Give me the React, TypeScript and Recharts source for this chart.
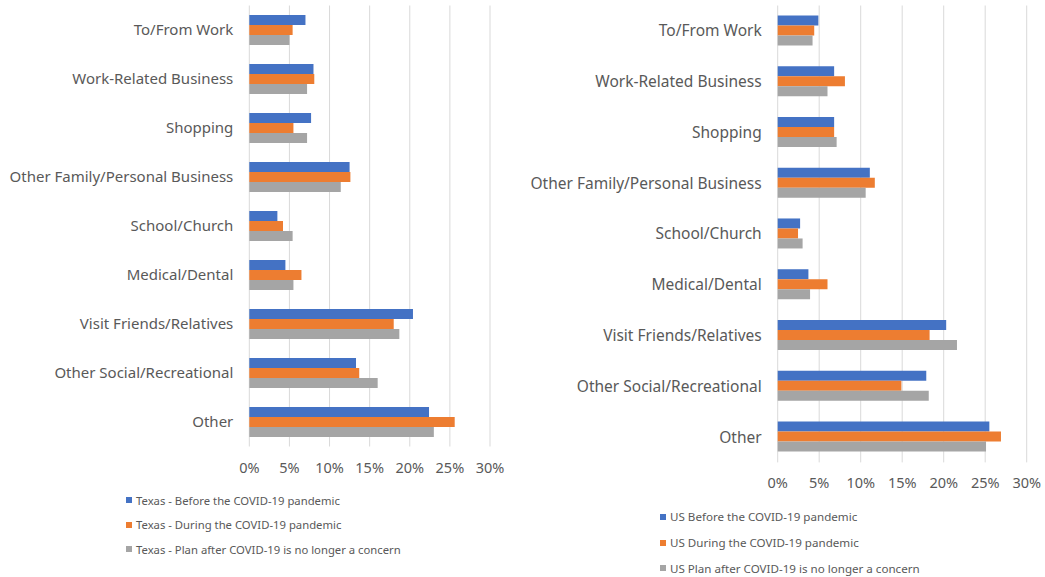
import React from 'react'
import { BarChart, CartesianGrid, XAxis, YAxis, Bar } from 'recharts';

// trip purposes, top to bottom
const purposes = [
    'To/From Work',
    'Work-Related Business',
    'Shopping',
    'Other Family/Personal Business',
    'School/Church',
    'Medical/Dental',
    'Visit Friends/Relatives',
    'Other Social/Recreational',
    'Other',
];

// percent of trips
const texasBefore = [7.0, 8.0, 7.7, 12.5, 3.5, 4.5, 20.4, 13.3, 22.4];
const texasDuring = [5.4, 8.1, 5.5, 12.6, 4.2, 6.5, 18.0, 13.7, 25.6];
const texasAfter = [5.0, 7.2, 7.2, 11.4, 5.4, 5.5, 18.7, 16.0, 23.0];

const usBefore = [4.9, 6.8, 6.8, 11.1, 2.7, 3.7, 20.3, 17.9, 25.5];
const usDuring = [4.4, 8.1, 6.8, 11.7, 2.45, 6.0, 18.3, 14.9, 26.9];
const usAfter = [4.2, 6.0, 7.1, 10.6, 3.0, 3.9, 21.6, 18.2, 25.1];

const pctTicks = [0, 5, 10, 15, 20, 25, 30];

const texasNames = [
    'Texas - Before the COVID-19 pandemic',
    'Texas - During the COVID-19 pandemic',
    'Texas - Plan after COVID-19 is no longer a concern',
];
const usNames = [
    'US Before the COVID-19 pandemic',
    'US During the COVID-19 pandemic',
    'US Plan after COVID-19 is no longer a concern',
];

const colors = ['#4472C4', '#ED7D31', '#A5A5A5'];
const textColor = '#595959';
const font = '"Noto Sans", sans-serif';

interface IRow {
    name: string,
    before: number,
    during: number,
    after: number
}

const buildRows = (b: number[], d: number[], a: number[]) =>
    purposes.map((name, i) => ({ name, before: b[i], during: d[i], after: a[i] })) as IRow[];

const texasData = buildRows(texasBefore, texasDuring, texasAfter);
const usData = buildRows(usBefore, usDuring, usAfter);

interface IPurposeChartProps {
    data: IRow[],
    width: number,
    height: number,
    yWidth: number,
    xHeight: number,
    right: number,
    labelSize: number,
    tickGap: number
}

const PurposeChart = (props: IPurposeChartProps) => {
    const { data, width, height, yWidth, xHeight, right, labelSize, tickGap } = props;
    return (
        <BarChart width={width} height={height} data={data} layout="vertical"
            margin={{ top: 5.5, right: right, bottom: 0, left: 0 }}
            barCategoryGap="19.5%" barGap={0}>
            <CartesianGrid horizontal={false} stroke="#D9D9D9" />
            <XAxis type="number" domain={[0, 30]} ticks={pctTicks} height={xHeight}
                tickFormatter={(v: number) => `${v}%`} axisLine={false} tickLine={false}
                tickSize={0} tickMargin={tickGap} interval={0}
                tick={{ fill: textColor, fontSize: 14.5, fontFamily: font }} />
            <YAxis type="category" dataKey="name" width={yWidth} axisLine={false} tickLine={false}
                tickSize={0} tickMargin={16} interval={0}
                tick={{ fill: textColor, fontSize: labelSize, fontFamily: font }} />
            <Bar dataKey="before" fill={colors[0]} isAnimationActive={false} />
            <Bar dataKey="during" fill={colors[1]} isAnimationActive={false} />
            <Bar dataKey="after" fill={colors[2]} isAnimationActive={false} />
        </BarChart>
    );
}

interface ILegendProps {
    names: string[],
    left: number,
    top: number,
    step: number,
    size: number
}

const SeriesLegend = (props: ILegendProps) => {
    const { names, left, top, step, size } = props;
    return (<div style={{ position: 'absolute', left, top }}>
        {names.map((n, i) => (
            <div key={n} style={{ display: 'flex', alignItems: 'center', height: step,
                fontFamily: font, fontSize: size, color: textColor, whiteSpace: 'nowrap' }}>
                <span style={{ display: 'inline-block', width: 6, height: 6, background: colors[i], marginRight: 4 }} />
                {n}
            </div>
        ))}
    </div>);
}

const App = () => {
    return (<div style={{ position: 'absolute', left: 0, top: 0, width: 1045, height: 577, background: '#fff' }}>
        <div style={{ position: 'absolute', left: 0, top: 0 }}>
            <PurposeChart data={texasData} width={510} height={490} yWidth={249.3} xHeight={43.5}
                right={20} labelSize={15} tickGap={16} />
        </div>
        <div style={{ position: 'absolute', left: 520, top: 0 }}>
            <PurposeChart data={usData} width={525} height={505} yWidth={257.7} xHeight={42.6}
                right={18.3} labelSize={15.5} tickGap={15} />
        </div>
        <SeriesLegend names={texasNames} left={126} top={488} step={24.5} size={11.3} />
        <SeriesLegend names={usNames} left={660} top={504} step={25.8} size={11.6} />
    </div>);
}

export default App;
